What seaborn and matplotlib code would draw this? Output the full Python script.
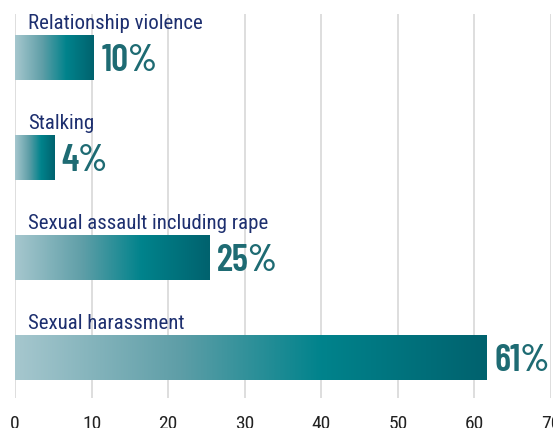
import numpy as np
import pandas as pd
import matplotlib
matplotlib.use('Agg')
import matplotlib.pyplot as plt
import seaborn as sns
from matplotlib.colors import LinearSegmentedColormap

# Dados
categorias = ['Relationship violence', 'Stalking', 'Sexual assault including rape', 'Sexual harassment']
valores = [10.3, 5.1, 25.4, 61.6]
rotulos_pct = ['10%', '4%', '25%', '61%']
ticks_x = [0, 10, 20, 30, 40, 50, 60, 70]

COR_ROTULO = '#1d2f6f'
COR_PCT = '#1e6b73'
gradiente = LinearSegmentedColormap.from_list(
    'teal', [(0.0, '#a6c7ce'), (0.35, '#5e9ea7'), (0.65, '#00838c'), (1.0, '#00626e')])

sns.set_theme(style='white')
plt.rcParams['font.family'] = ['Roboto Condensed', 'DejaVu Sans']

df = pd.DataFrame({'categoria': categorias, 'valor': valores})

fig = plt.figure(figsize=(5.53, 4.28), dpi=100)
ax = fig.add_axes([15 / 553, 30 / 428, 536 / 553, 384 / 428])

sns.barplot(data=df, x='valor', y='categoria', orient='h', width=0.45,
            color='#00838c', ax=ax, zorder=2)

# preenchimento em degradê dentro de cada barra
grad = np.linspace(0, 1, 256).reshape(1, -1)
for barra in ax.patches:
    x0, y0 = barra.get_x(), barra.get_y()
    w, h = barra.get_width(), barra.get_height()
    img = ax.imshow(grad, cmap=gradiente, aspect='auto', zorder=3,
                    extent=[x0, x0 + w, y0 + h, y0], interpolation='bicubic')
    img.set_clip_path(barra)
    barra.set_facecolor('none')
    barra.set_edgecolor('none')

ax.set_xlim(0, 70)
ax.set_ylim(3.41, -0.44)

for i, (cat, val, pct) in enumerate(zip(categorias, valores, rotulos_pct)):
    ax.text(1.7, i - 0.285, cat, color=COR_ROTULO, fontsize=15,
            va='baseline', ha='left', zorder=4)
    ax.text(val + 1.0, i + 0.135, pct, color=COR_PCT, fontsize=27,
            family='Barlow Condensed', fontweight='semibold',
            va='baseline', ha='left', zorder=4)

ax.set_xticks(ticks_x)
ax.set_xticklabels([str(t) for t in ticks_x])
ax.set_yticks([])
ax.set_xlabel('')
ax.set_ylabel('')
ax.tick_params(axis='x', length=0, pad=12, labelsize=14, labelcolor='#222222')
ax.grid(axis='x', color='#dedede', linewidth=1.4, zorder=0)
ax.set_axisbelow(True)
for lado in ['top', 'right', 'bottom', 'left']:
    ax.spines[lado].set_visible(False)

fig.savefig('out.png', dpi=100)
